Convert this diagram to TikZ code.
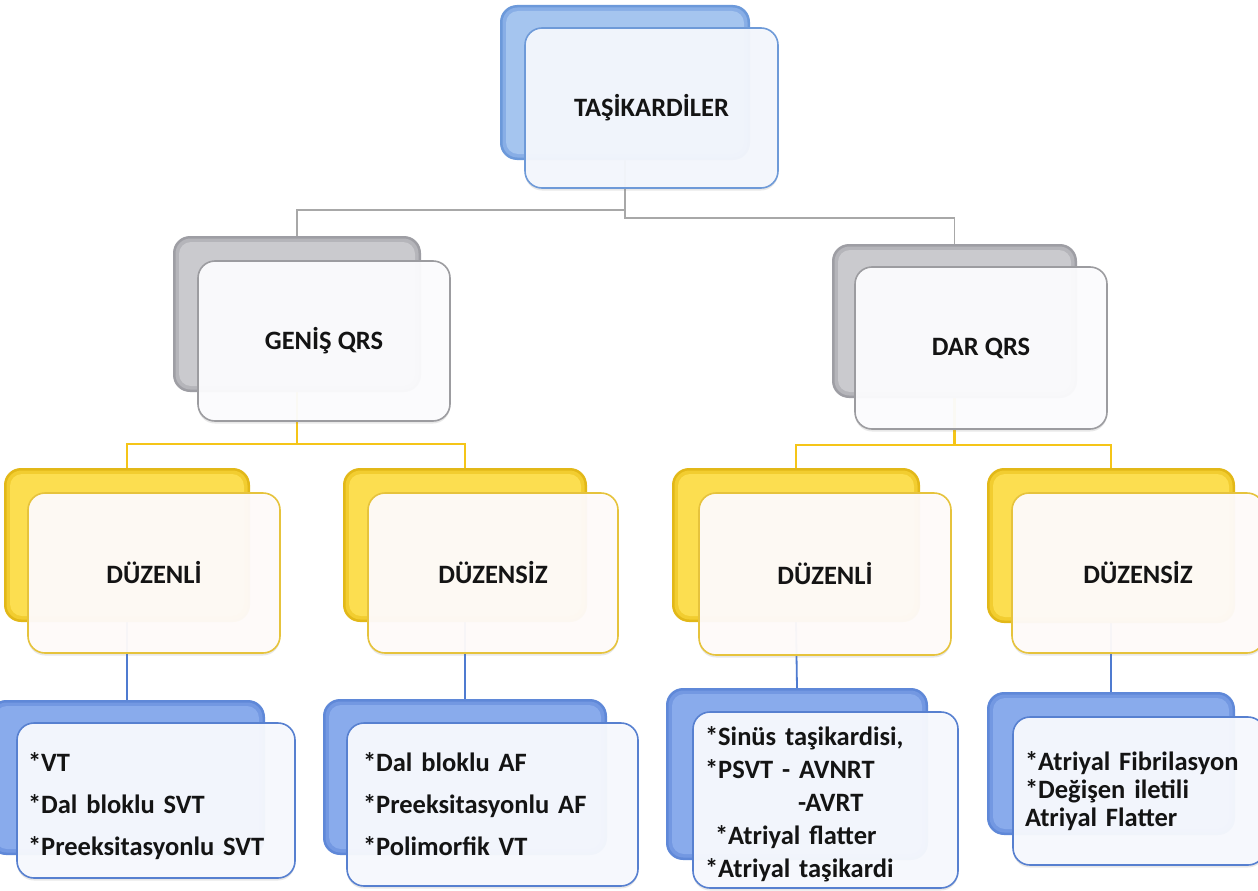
\documentclass[tikz,border=0pt]{standalone}
\usepackage{fontspec}
\setmainfont{Carlito}
\usetikzlibrary{shadows,calc}
\pgfdeclarelayer{bg}
\pgfsetlayers{bg,main}
\definecolor{txt}{HTML}{141414}
% top (blue) back
\definecolor{tbO}{HTML}{6C99DA}\definecolor{tbM}{HTML}{88AEE6}\definecolor{tbI}{HTML}{A5C5EF}
\definecolor{tfD}{HTML}{6E9AD8}\definecolor{tfF}{HTML}{F4F7FD}
% gray
\definecolor{gbO}{HTML}{9E9EA4}\definecolor{gbM}{HTML}{B5B5BA}\definecolor{gbI}{HTML}{CACACE}
\definecolor{gfD}{HTML}{9C9CA0}\definecolor{gfF}{HTML}{FCFCFE}
% yellow
\definecolor{ybO}{HTML}{E2B818}\definecolor{ybM}{HTML}{F2CD30}\definecolor{ybI}{HTML}{FCDE50}
\definecolor{yfD}{HTML}{E6C33C}\definecolor{yfF}{HTML}{FFFBFA}
% bottom blue
\definecolor{bbO}{HTML}{5F88D8}\definecolor{bbM}{HTML}{7398E2}\definecolor{bbI}{HTML}{89ABEC}
\definecolor{bfD}{HTML}{5780D0}\definecolor{bfF}{HTML}{F7F9FE}
% connectors
\definecolor{gC}{HTML}{A8A8A8}\definecolor{yC}{HTML}{F5C518}\definecolor{bC}{HTML}{4F7BD0}

\tikzset{
  box/.style={rectangle, rounded corners=17pt, inner sep=0pt, outer sep=0pt},
  wh/.style 2 args={minimum width=#1pt, minimum height=#2pt},
  back/.style n args={3}{box, fill=#1, path picture={
     \fill[#2, rounded corners=15pt] ([shift={(2.5pt,-2.5pt)}]path picture bounding box.north west) rectangle ([shift={(-2.5pt,2.5pt)}]path picture bounding box.south east);
     \fill[#3, rounded corners=12pt] ([shift={(6pt,-6pt)}]path picture bounding box.north west) rectangle ([shift={(-6pt,6pt)}]path picture bounding box.south east);}},
  front/.style 2 args={box, draw=#1, fill=#2, line width=1.6pt, fill opacity=0.955, text opacity=1, draw opacity=1,
     drop shadow={opacity=0.18, shadow xshift=0pt, shadow yshift=-2.5pt}, text=txt,
     font=\bfseries\fontsize{26.5}{32}\selectfont},
  listtext/.style n args={3}{align=left, text width=#1pt, inner xsep=#2pt,
     font=\bfseries\fontsize{26.5}{#3}\selectfont},
  gconn/.style={draw=gC, line width=1.4pt},
  yconn/.style={draw=yC, line width=2.4pt},
  bconn/.style={draw=bC, line width=1.8pt},
}

\begin{document}
\begin{tikzpicture}[x=1pt,y=-1pt]
\useasboundingbox (0,0) rectangle (1258,891);
\begin{pgfonlayer}{bg}
\fill[white] (0,0) rectangle (1258,891);
\end{pgfonlayer}

% ---- back boxes
\node[back={tbO}{tbM}{tbI}, wh={250}{155}] (topB) at (625,82.5) {};
\node[back={gbO}{gbM}{gbI}, wh={248}{156}] (genB) at (297,314) {};
\node[back={gbO}{gbM}{gbI}, wh={245}{154}] (darB) at (954.5,321) {};
\node[back={ybO}{ybM}{ybI}, wh={246}{154}] (y1B) at (127,545) {};
\node[back={ybO}{ybM}{ybI}, wh={244}{154}] (y2B) at (465,545) {};
\node[back={ybO}{ybM}{ybI}, wh={248}{154}] (y3B) at (796,545) {};
\node[back={ybO}{ybM}{ybI}, wh={248}{155}] (y4B) at (1111,545.5) {};
\node[back={bbO}{bbM}{bbI}, wh={276}{155}] (b1B) at (127,777.5) {};
\node[back={bbO}{bbM}{bbI}, wh={284}{156}] (b2B) at (465,777) {};
\node[back={bbO}{bbM}{bbI}, wh={262}{172}] (b3B) at (797,774) {};
\node[back={bbO}{bbM}{bbI}, wh={248}{143}] (b4B) at (1111,763.5) {};

% ---- front boxes
\node[front={tfD}{tfF}, wh={253}{160}] (topF) at (651.5,108) {TAŞİKARDİLER};
\node[front={gfD}{gfF}, wh={252}{160}] (genF) at (324,341) {GENİŞ QRS};
\node[front={gfD}{gfF}, wh={252}{162}] (darF) at (981,348) {DAR QRS};
\node[front={yfD}{yfF}, wh={252}{160}] (y1F) at (154,573) {DÜZENLİ};
\node[front={yfD}{yfF}, wh={250}{160}] (y2F) at (493,573) {DÜZENSİZ};
\node[front={yfD}{yfF}, wh={252}{162}] (y3F) at (825,574) {DÜZENLİ};
\node[front={yfD}{yfF}, wh={252}{160}] (y4F) at (1138,573) {DÜZENSİZ};
\node[front={bfD}{bfF}, wh={278}{155}, listtext={256}{11}{42}] (b1F) at (156,800.5)
  {\rule{0pt}{30pt}*VT\\{}*Dal bloklu SVT\\{}*Preeksitasyonlu SVT};
\node[front={bfD}{bfF}, wh={291}{163}, listtext={259}{16}{42}] (b2F) at (492.5,804.5)
  {*Dal bloklu AF\\{}*Preeksitasyonlu AF\\{}*Polimorfik VT};
\node[front={bfD}{bfF}, wh={265}{176}, listtext={241}{12}{33}] (b3F) at (825.5,800)
  {\rule{0pt}{27pt}*Sinüs taşikardisi,\\{}*PSVT - AVNRT\\\hspace*{93pt}-AVRT\\\hspace*{10pt}*Atriyal flatter\\{}*Atriyal taşikardi};
\node[front={bfD}{bfF}, wh={252}{148}, listtext={228}{12}{28}] (b4F) at (1139,791)
  {*Atriyal Fibrilasyon\\{}*Değişen iletili\\{}Atriyal Flatter};

% ---- connectors
\path (topB.south) ++(0,50) coordinate (tj1);
\path (topB.south) ++(0,58) coordinate (tj2);
\path (genB.south) ++(0,52) coordinate (gj);
\path (darB.south) ++(0,47) coordinate (dj);
\begin{pgfonlayer}{bg}
\draw[gconn] (topB.south) -- (tj2) -| (darB.north);
\draw[gconn] (tj1) -| (genB.north);
\draw[yconn] (genB.south) -- (gj);
\draw[yconn] (gj) -| (y1B.north);
\draw[yconn] (gj) -| (y2B.north);
\draw[yconn] (darB.south) -- (dj);
\draw[yconn] (dj) -| (y3B.north);
\draw[yconn] (dj) -| (y4B.north);
\draw[bconn] (y1B.south) -- (b1B.north);
\draw[bconn] (y2B.south) -- (b2B.north);
\draw[bconn] (y3B.south) -- (b3B.north);
\draw[bconn] (y4B.south) -- (b4B.north);
\end{pgfonlayer}
\end{tikzpicture}
\end{document}
